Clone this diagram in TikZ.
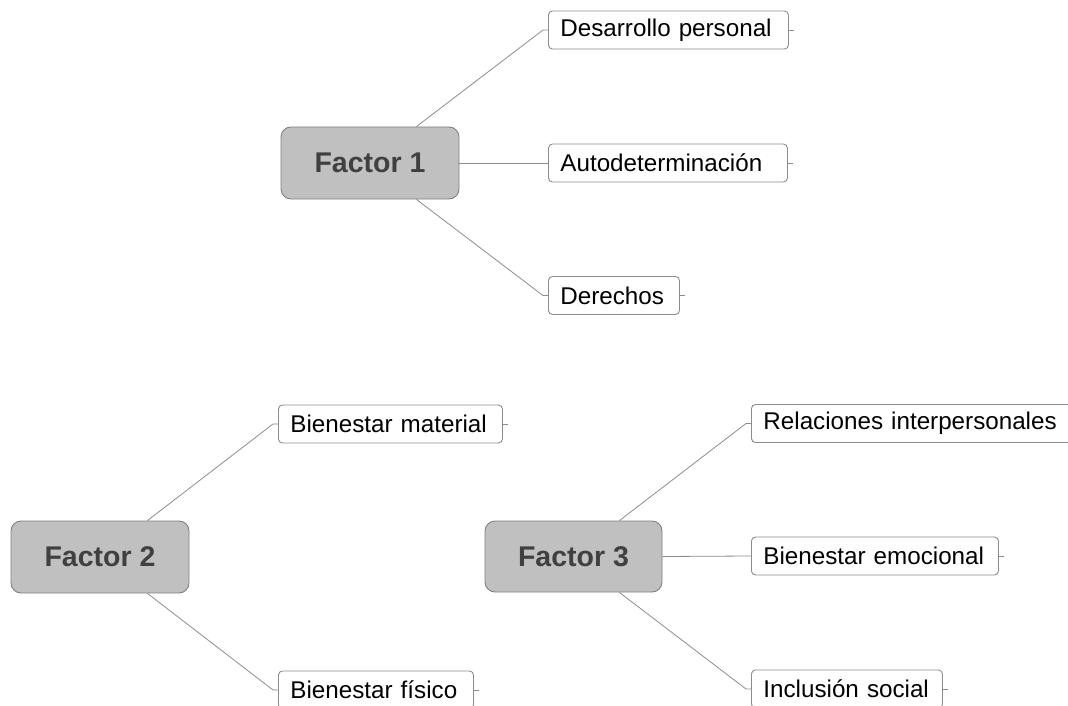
\documentclass[tikz,border=0pt]{standalone}
\usepackage{fontspec}
\setmainfont{Liberation Sans}
\usetikzlibrary{calc}
\definecolor{factorfill}{HTML}{C0C0C0}
\definecolor{factorline}{HTML}{808080}
\definecolor{factortext}{HTML}{404040}
\definecolor{leafline}{HTML}{8C8C8C}
\definecolor{linkgray}{HTML}{8C8C8C}
\begin{document}
\begin{tikzpicture}[x=1pt,y=-1pt,
  factor/.style={draw=factorline, fill=factorfill, rounded corners=10pt,
    line width=0.9pt, text=factortext, inner sep=0pt,
    font=\fontsize{28.5}{32}\selectfont\bfseries},
  leaf/.style={draw=leafline, fill=white, rounded corners=4pt, line width=0.9pt,
    anchor=west, minimum height=38pt, inner ysep=0pt, inner xsep=12pt,
    align=left, font=\fontsize{24.2}{28}\selectfont},
  link/.style={draw=linkgray, line width=0.8pt},
]
\useasboundingbox (0,0) rectangle (1068,706);
\clip (0,0) rectangle (1068,706);

% central factor boxes
\node[factor, minimum width=178pt, minimum height=72pt] (f1) at (370,163) {Factor 1};
\node[factor, minimum width=178pt, minimum height=72pt] (f2) at (100,557) {Factor 2};
\node[factor, minimum width=177pt, minimum height=71pt] (f3) at (573.5,556.5) {Factor 3};

% items of each factor (box width minus 24pt of padding)
\node[leaf, text width=216pt] (dp) at (548,30) {\mbox{Desarrollo personal}};
\node[leaf, text width=215pt] (ad) at (548,163) {\mbox{Autodeterminación}};
\node[leaf, text width=107pt] (de) at (548,295.5) {\mbox{Derechos}};

\node[leaf, text width=200pt] (bm) at (278,424) {\mbox{Bienestar material}};
\node[leaf, text width=171pt] (bf) at (278,690) {\mbox{Bienestar físico}};

\node[leaf, text width=330pt] (ri) at (751,423.5) {\mbox{Relaciones interpersonales}};
\node[leaf, text width=223pt] (be) at (751,556) {\mbox{Bienestar emocional}};
\node[leaf, text width=167pt] (is) at (751,689) {\mbox{Inclusión social}};

% branch anchors on the factor boxes
\coordinate (f1t) at ($(f1.north east)+(-43,0)$);
\coordinate (f1b) at ($(f1.south east)+(-43,0)$);
\coordinate (f2t) at ($(f2.north east)+(-42,0)$);
\coordinate (f2b) at ($(f2.south east)+(-42,0)$);
\coordinate (f3t) at ($(f3.north east)+(-43,0)$);
\coordinate (f3b) at ($(f3.south east)+(-43,0)$);

% connectors with a short elbow into each item
\draw[link] (f1t) -- ($(dp.west)+(-5,0)$) -- (dp.west);
\draw[link] (f1.east) -- (ad.west);
\draw[link] (f1b) -- ($(de.west)+(-5,0)$) -- (de.west);

\draw[link] (f2t) -- ($(bm.west)+(-5,0)$) -- (bm.west);
\draw[link] (f2b) -- ($(bf.west)+(-5,0)$) -- (bf.west);

\draw[link] (f3t) -- ($(ri.west)+(-5,0)$) -- (ri.west);
\draw[link] (f3.east) -- (be.west);
\draw[link] (f3b) -- ($(is.west)+(-5,0)$) -- (is.west);

% short stubs on the right of each item
\foreach \n in {dp,ad,de,bm,bf,be,is}
  \draw[link] (\n.east) -- ++(5,0);
\end{tikzpicture}
\end{document}
